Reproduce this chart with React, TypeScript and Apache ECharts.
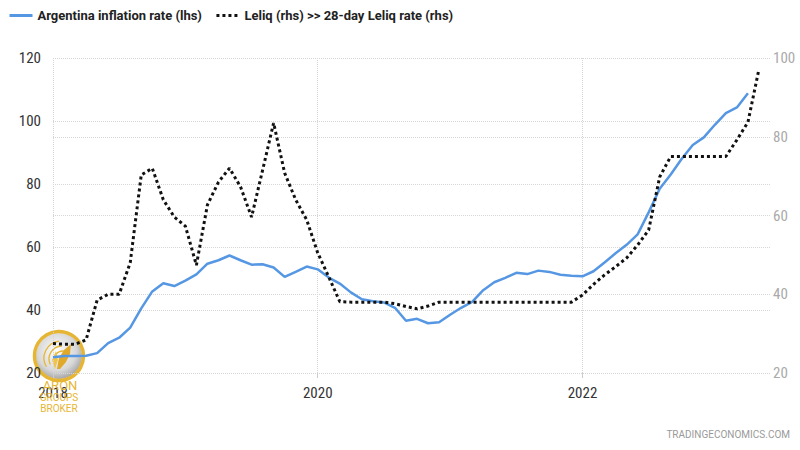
import React, { useEffect, useRef } from "react";
import * as echarts from "echarts";

const startYear = 2018;
const monthCount = 66; // Jan 2018 .. Jun 2023

const inflation = [
  25.0, 25.4, 25.4, 25.5, 26.3, 29.5, 31.2, 34.4, 40.5, 45.9, 48.5, 47.6,
  49.3, 51.3, 54.7, 55.8, 57.3, 55.8, 54.4, 54.5, 53.5, 50.5, 52.1, 53.8,
  52.9, 50.3, 48.4, 45.6, 43.4, 42.8, 42.4, 40.7, 36.6, 37.2, 35.8, 36.1,
  38.5, 40.7, 42.6, 46.3, 48.8, 50.2, 51.8, 51.4, 52.5, 52.1, 51.2, 50.9,
  50.7, 52.3, 55.1, 58.0, 60.7, 64.0, 71.0, 78.5, 83.0, 88.0, 92.4, 94.8,
  98.8, 102.5, 104.3, 108.8,
];

const leliq = [
  27.5, 27.3, 27.3, 28.4, 38.5, 40, 40, 48, 70.3, 72, 64, 59.6,
  57.3, 47.4, 62.7, 68.5, 72, 67.3, 59.6, 71.5, 83.5, 70.8, 64, 58.9,
  50.5, 44.4, 38.1, 38, 38, 38, 38, 37.6, 36.9, 36.3, 37, 38,
  38, 38, 38, 38, 38, 38, 38, 38, 38, 38, 38, 38,
  39.8, 42.5, 44.9, 47, 49.2, 52.5, 56.3, 69.8, 75, 75, 75, 75,
  75, 75, 79.2, 83.7, 97.2,
];

const seriesNames = [
  "Argentina inflation rate (lhs)",
  "Leliq (rhs) >> 28-day Leliq rate (rhs)",
];

const leftTicks = { min: 20, max: 120, interval: 20 };
const rightTicks = { min: 20, max: 100, interval: 20 };

const axisFont = "'Liberation Sans Narrow', 'Roboto Condensed', Roboto, sans-serif";

export default function App() {
  const ref = useRef<HTMLDivElement>(null);

  useEffect(() => {
    if (!ref.current) return;
    const chart = echarts.init(ref.current, null, { renderer: "svg" });

    const months: string[] = [];
    for (let i = 0; i < monthCount; i++) {
      const y = startYear + Math.floor(i / 12);
      const m = (i % 12) + 1;
      months.push(`${y}-${String(m).padStart(2, "0")}`);
    }
    const everyTwoYears = (idx: number) => idx % 24 === 0;
    const gold = "#e6b533";

    chart.setOption({
      animation: false,
      backgroundColor: "#ffffff",
      legend: {
        left: 3,
        top: 4,
        itemWidth: 23,
        itemHeight: 14,
        itemGap: 13,
        data: seriesNames,
        itemStyle: { opacity: 0 },
        lineStyle: { width: 3 },
        textStyle: {
          fontFamily: "Roboto, sans-serif",
          fontSize: 13,
          fontWeight: "bold",
          color: "#222",
        },
      },
      grid: { left: 53, right: 30, top: 58, bottom: 77 },
      xAxis: {
        type: "category",
        data: months,
        boundaryGap: false,
        axisLine: { show: false },
        axisTick: {
          show: true,
          interval: everyTwoYears,
          length: 5,
          lineStyle: { color: "#cccccc" },
        },
        axisLabel: {
          interval: everyTwoYears,
          formatter: (v: string) => v.slice(0, 4),
          color: "#333",
          fontFamily: axisFont,
          fontSize: 15,
          margin: 12,
        },
        splitLine: {
          show: true,
          interval: everyTwoYears,
          lineStyle: { color: "#d6d6d6", type: "dotted", width: 1 },
        },
      },
      yAxis: [
        {
          type: "value",
          position: "left",
          ...leftTicks,
          axisLine: { show: false },
          axisTick: { show: false },
          axisLabel: {
            color: "#333",
            fontFamily: axisFont,
            fontSize: 15,
            margin: 12,
          },
          splitLine: {
            lineStyle: { color: "#d6d6d6", type: "dotted", width: 1 },
          },
        },
        {
          type: "value",
          position: "right",
          ...rightTicks,
          axisLine: { show: false },
          axisTick: { show: false },
          axisLabel: {
            color: "#aaaaaa",
            fontFamily: axisFont,
            fontSize: 15,
            margin: 3,
          },
          splitLine: {
            lineStyle: { color: "#d6d6d6", type: "dotted", width: 1 },
          },
        },
      ],
      series: [
        {
          name: seriesNames[0],
          type: "line",
          yAxisIndex: 0,
          data: inflation,
          symbol: "none",
          color: "#5697e3",
          lineStyle: { color: "#5697e3", width: 2.5 },
          z: 2,
        },
        {
          name: seriesNames[1],
          type: "line",
          yAxisIndex: 1,
          data: leliq,
          symbol: "none",
          color: "#111111",
          lineStyle: { color: "#111111", width: 3, type: [3, 3] },
          z: 3,
        },
      ],
      graphic: [
        {
          type: "text",
          right: 10,
          top: 429,
          style: {
            text: "TRADINGECONOMICS.COM",
            fill: "#9a9a9a",
            fontFamily: "Roboto, sans-serif",
            fontSize: 10,
          },
          z: 10,
        },
        {
          type: "group",
          x: 59,
          y: 356,
          z: 20,
          children: [
            {
              type: "circle",
              shape: { cx: 0, cy: 0, r: 23 },
              style: {
                fill: new echarts.graphic.RadialGradient(0.45, 0.4, 0.7, [
                  { offset: 0, color: "#ffffff" },
                  { offset: 0.6, color: "#d8d8d8" },
                  { offset: 1, color: "#8e8e8e" },
                ]),
              },
            },
            {
              type: "circle",
              shape: { cx: 0, cy: 0, r: 24.5 },
              style: { fill: "none", stroke: gold, lineWidth: 3.5 },
            },
            {
              type: "arc",
              shape: { cx: 2, cy: 2, r: 17, startAngle: 2.6, endAngle: 4.6 },
              style: { fill: "none", stroke: gold, lineWidth: 1.3 },
            },
            {
              type: "arc",
              shape: { cx: 3, cy: 3, r: 13, startAngle: 2.7, endAngle: 4.7 },
              style: { fill: "none", stroke: gold, lineWidth: 1.3 },
            },
            {
              type: "arc",
              shape: { cx: 4, cy: 4, r: 9, startAngle: 2.8, endAngle: 4.8 },
              style: { fill: "none", stroke: gold, lineWidth: 1.3 },
            },
            {
              type: "polygon",
              shape: {
                points: [
                  [-2, 13], [0, 2], [5, -6], [12, -12], [11, -2], [7, 6], [1, 13],
                ],
              },
              style: { fill: "#e0a92a" },
            },
            {
              type: "polygon",
              shape: {
                points: [[-4, 13], [-7, 4], [-3, -5], [-1, 4]],
              },
              style: { fill: "#f0c44a" },
            },
          ],
        },
        {
          type: "text",
          x: 60,
          y: 385,
          style: {
            text: "ARON",
            fill: gold,
            fontFamily: "Roboto, sans-serif",
            fontSize: 13,
            align: "center",
            verticalAlign: "middle",
          },
          z: 20,
        },
        {
          type: "text",
          x: 59,
          y: 397,
          style: {
            text: "GROUPS",
            fill: gold,
            fontFamily: "Roboto, sans-serif",
            fontSize: 10,
            align: "center",
            verticalAlign: "middle",
          },
          z: 20,
        },
        {
          type: "text",
          x: 59,
          y: 408,
          style: {
            text: "BROKER",
            fill: gold,
            fontFamily: "Roboto, sans-serif",
            fontSize: 10,
            align: "center",
            verticalAlign: "middle",
          },
          z: 20,
        },
      ],
    });

    return () => {
      chart.dispose();
    };
  }, []);

  return (
    <div
      ref={ref}
      style={{ position: "fixed", left: 0, top: 0, width: 800, height: 450 }}
    />
  );
}
